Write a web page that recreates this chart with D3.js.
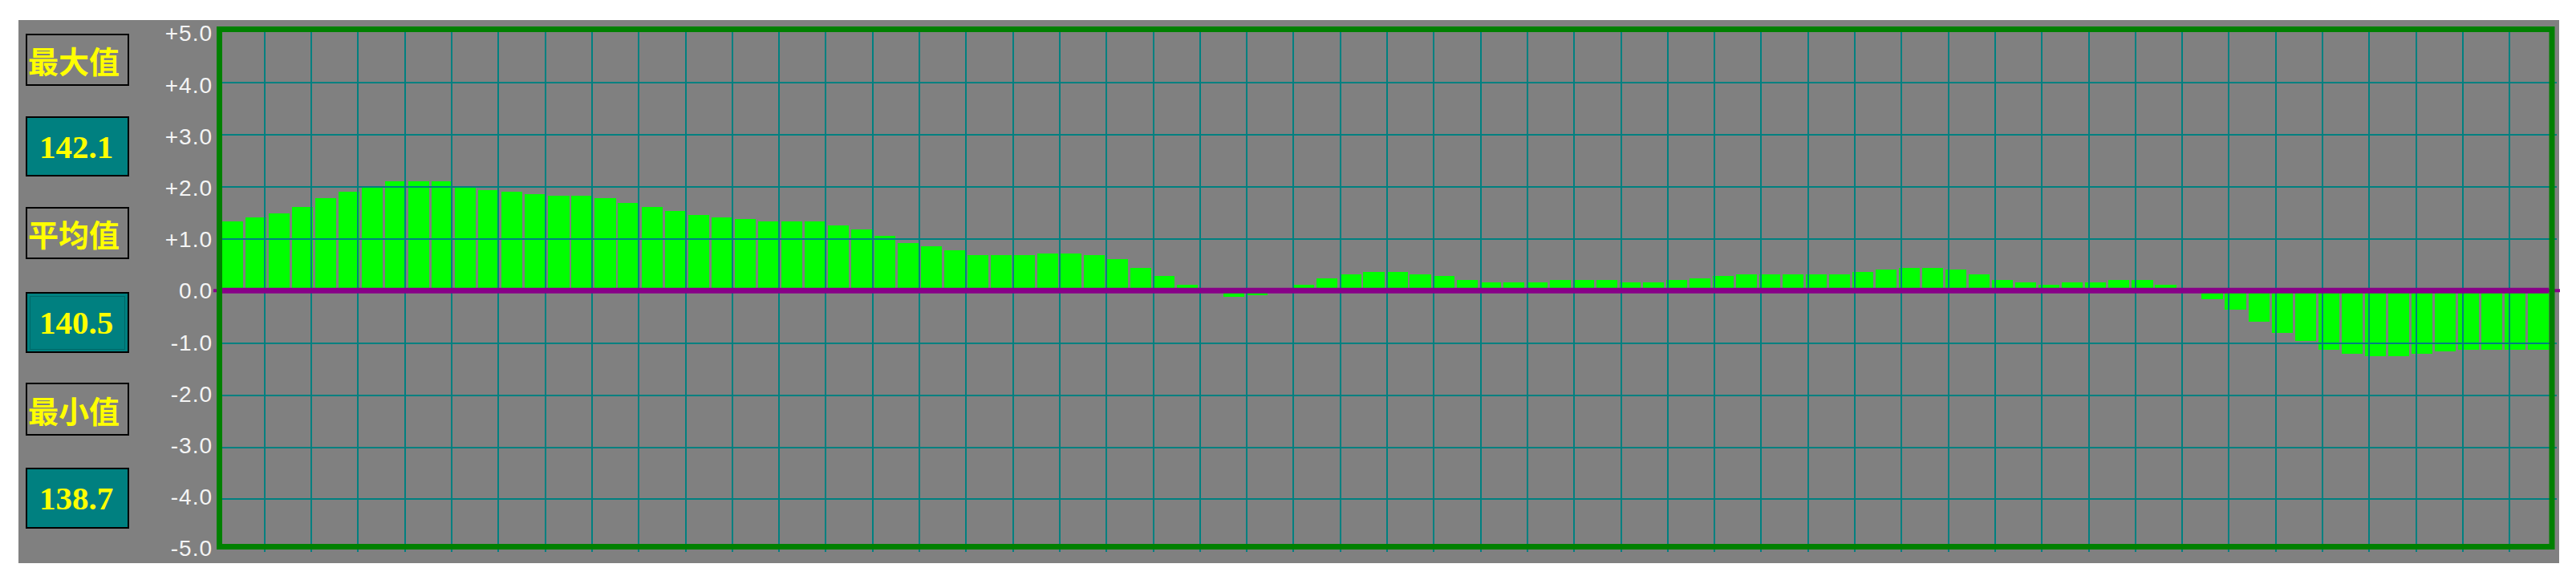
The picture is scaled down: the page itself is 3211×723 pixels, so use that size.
<!DOCTYPE html>
<html><head><meta charset="utf-8">
<script src="https://cdn.jsdelivr.net/npm/d3@7"></script>
<style>html,body{margin:0;padding:0;background:#fff;overflow:hidden}</style>
</head><body>
<svg id="chart" width="3211" height="723"></svg>
<script>
// ---- data ----
const deviations = [
  1.33, 1.41, 1.49, 1.61, 1.78, 1.90, 1.98, 2.10, 2.10, 2.10,
  1.98, 1.93, 1.90, 1.86, 1.82, 1.82, 1.78, 1.69, 1.61, 1.53,
  1.45, 1.41, 1.37, 1.33, 1.33, 1.33, 1.25, 1.17, 1.05, 0.92,
  0.85, 0.77, 0.68, 0.68, 0.68, 0.72, 0.72, 0.68, 0.60, 0.44,
  0.28, 0.12, 0.00, -0.12, -0.09, 0.00, 0.12, 0.24, 0.32, 0.36,
  0.36, 0.32, 0.28, 0.20, 0.16, 0.16, 0.16, 0.20, 0.20, 0.20,
  0.16, 0.16, 0.20, 0.24, 0.28, 0.32, 0.32, 0.32, 0.32, 0.32,
  0.36, 0.40, 0.44, 0.44, 0.40, 0.32, 0.20, 0.16, 0.12, 0.16,
  0.16, 0.20, 0.20, 0.12, 0.00, -0.16, -0.36, -0.60, -0.81, -0.97,
  -1.13, -1.21, -1.26, -1.26, -1.21, -1.17, -1.13, -1.13, -1.13, -1.13
];
const sampleIndex = deviations.map((d, i) => i);
const yTickValues = [5, 4, 3, 2, 1, 0, -1, -2, -3, -4, -5];
const yTickLabels = ["+5.0", "+4.0", "+3.0", "+2.0", "+1.0", "0.0", "-1.0", "-2.0", "-3.0", "-4.0", "-5.0"];
const statTitles = ["最大值", "平均值", "最小值"];
const statValues = ["142.1", "140.5", "138.7"];
const gridColumnCount = 50;

// ---- layout ----
const svg = d3.select("#chart");
svg.append("rect").attr("x", 23).attr("y", 25).attr("width", 3167).attr("height", 677).attr("fill", "#808080");

const x = d3.scaleBand().domain(sampleIndex).range([277, 3177]).paddingInner(0.1).paddingOuter(0);
const y = d3.scaleLinear().domain([-5, 5]).range([686.8, 37.8]);
const yLabel = d3.scaleLinear().domain([-5, 5]).range([684, 42]);
const xGrid = d3.scaleLinear().domain([0, gridColumnCount]).range([271, 3186]);

// bars
svg.append("g").attr("shape-rendering", "crispEdges")
  .selectAll("rect").data(deviations).join("rect")
  .attr("x", (d, i) => x(sampleIndex[i]))
  .attr("width", x.bandwidth())
  .attr("y", d => y(Math.max(0, d)))
  .attr("height", d => Math.abs(y(d) - y(0)))
  .attr("fill", "#00ff00");

// horizontal grid
const hGrid = svg.append("g").attr("transform", "translate(277,0)")
  .call(d3.axisLeft(y).tickValues(yTickValues.filter(v => Math.abs(v) < 5)).tickSize(-(3187 - 277)).tickFormat(""));
hGrid.select(".domain").remove();
hGrid.selectAll("line").attr("stroke", "#008080").attr("stroke-width", 2).attr("shape-rendering", "crispEdges");

// vertical grid
const vGrid = svg.append("g").attr("transform", "translate(0,688)")
  .call(d3.axisBottom(xGrid).tickValues(d3.range(1, gridColumnCount)).tickSize(-(688 - 36)).tickFormat(""));
vGrid.select(".domain").remove();
vGrid.selectAll("line").attr("stroke", "#008080").attr("stroke-width", 2).attr("shape-rendering", "crispEdges");

// zero line
svg.append("line").attr("x1", 266).attr("x2", 3191).attr("y1", y(0)).attr("y2", y(0))
  .attr("stroke", "#880088").attr("stroke-width", 4);
svg.append("line").attr("x1", 277).attr("x2", 3177).attr("y1", y(0)).attr("y2", y(0))
  .attr("stroke", "#880088").attr("stroke-width", 7);

// frame
svg.append("rect").attr("x", 273.5).attr("y", 36.5).attr("width", 3181 - 273.5).attr("height", 681.5 - 36.5)
  .attr("fill", "none").attr("stroke", "#008000").attr("stroke-width", 7);

// y tick labels
const yAxis = svg.append("g").attr("transform", "translate(265,0)")
  .call(d3.axisLeft(yLabel).tickValues(yTickValues).tickFormat((d, i) => yTickLabels[i]).tickSize(0).tickPadding(0));
yAxis.select(".domain").remove();
yAxis.selectAll("text")
  .attr("fill", "#f4f4f4")
  .style("font-family", "'Liberation Sans', Arial, sans-serif")
  .style("font-size", "28px")
  .style("letter-spacing", "1px");

// stat boxes
const boxes = [
  { y0: 42, y1: 107, fill: "#808080", text: statTitles[0], kind: "title" },
  { y0: 145, y1: 220, fill: "#008080", text: statValues[0], kind: "value" },
  { y0: 258, y1: 323, fill: "#808080", text: statTitles[1], kind: "title" },
  { y0: 364, y1: 440, fill: "#008080", text: statValues[1], kind: "value" },
  { y0: 477, y1: 543, fill: "#808080", text: statTitles[2], kind: "title" },
  { y0: 583, y1: 659, fill: "#008080", text: statValues[2], kind: "value" }
];
const bg = svg.append("g");
boxes.forEach(b => {
  bg.append("rect").attr("x", 33).attr("y", b.y0 + 1).attr("width", 127).attr("height", b.y1 - b.y0 - 2)
    .attr("fill", b.fill).attr("stroke", "#000").attr("stroke-width", 2);
  const t = bg.append("text")
    .attr("x", b.kind === "title" ? 92 : 95)
    .attr("y", (b.y0 + b.y1) / 2)
    .attr("text-anchor", "middle")
    .attr("dominant-baseline", "central")
    .attr("fill", "#ffff00")
    .text(b.text);
  if (b.kind === "title") {
    t.style("font-family", "'Noto Sans CJK SC', sans-serif").style("font-size", "38px").style("font-weight", "bold");
  } else {
    t.style("font-family", "'Liberation Serif', 'Times New Roman', serif").style("font-size", "41px").style("font-weight", "bold");
  }
});
// focus rectangle on the average value box
bg.append("rect").attr("x", 37.5).attr("y", 369.5).attr("width", 118).attr("height", 66)
  .attr("fill", "none").attr("stroke", "#005050").attr("stroke-width", 1).attr("stroke-dasharray", "1,1");
</script>
</body></html>
